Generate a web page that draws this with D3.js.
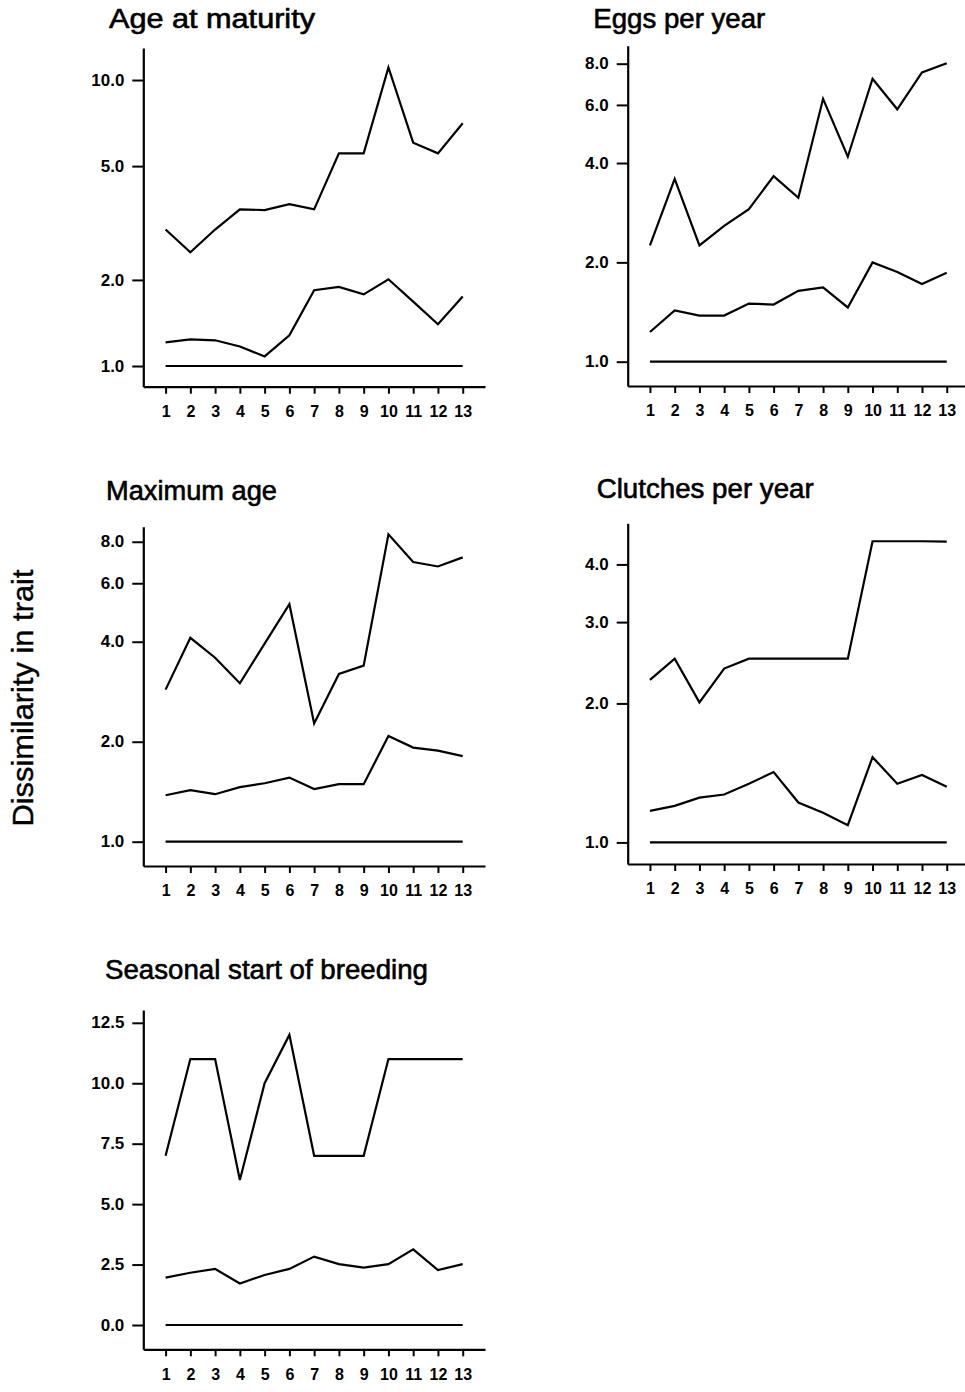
<!DOCTYPE html>
<html>
<head>
<meta charset="utf-8">
<script src="https://cdn.jsdelivr.net/npm/d3@7"></script>
<style>
  html, body { margin: 0; padding: 0; background: #fff; }
  svg { display: block; }
  text { font-family: "Liberation Sans", Arial, Helvetica, sans-serif; fill: #000; }
</style>
</head>
<body>
<svg id="chart" width="965" height="1392"></svg>
<script>
// ---------------- data ----------------
const steps = [1, 2, 3, 4, 5, 6, 7, 8, 9, 10, 11, 12, 13];
const xTickLabels = ["1", "2", "3", "4", "5", "6", "7", "8", "9", "10", "11", "12", "13"];

const titles = ["Age at maturity", "Eggs per year", "Maximum age", "Clutches per year", "Seasonal start of breeding"];
const yAxisLabel = "Dissimilarity in trait";

const ageMatHigh = [3.00, 2.50, 3.00, 3.53, 3.51, 3.68, 3.53, 5.54, 5.54, 11.07, 6.04, 5.54, 7.06];
const ageMatLow  = [1.21, 1.24, 1.23, 1.17, 1.08, 1.28, 1.84, 1.89, 1.78, 2.01, 1.68, 1.40, 1.75];
const ageMatBase = [1, 1, 1, 1, 1, 1, 1, 1, 1, 1, 1, 1, 1];
const ageMatTicks = [1, 2, 5, 10];

const eggsHigh = [2.25, 3.58, 2.25, 2.58, 2.90, 3.65, 3.14, 6.26, 4.18, 7.20, 5.82, 7.53, 8.02];
const eggsLow  = [1.23, 1.43, 1.38, 1.38, 1.50, 1.49, 1.64, 1.68, 1.46, 2.00, 1.87, 1.72, 1.86];
const eggsBase = [1, 1, 1, 1, 1, 1, 1, 1, 1, 1, 1, 1, 1];
const eggsTicks = [1, 2, 4, 6, 8];

const maxAgeHigh = [2.87, 4.11, 3.58, 3.00, 3.95, 5.19, 2.27, 3.20, 3.39, 8.42, 6.95, 6.74, 7.18];
const maxAgeLow  = [1.38, 1.43, 1.39, 1.46, 1.50, 1.56, 1.44, 1.49, 1.49, 2.08, 1.92, 1.88, 1.81];
const maxAgeBase = [1, 1, 1, 1, 1, 1, 1, 1, 1, 1, 1, 1, 1];
const maxAgeTicks = [1, 2, 4, 6, 8];

const clutchHigh = [2.25, 2.50, 2.01, 2.38, 2.50, 2.50, 2.50, 2.50, 2.50, 4.49, 4.49, 4.49, 4.48];
const clutchLow  = [1.17, 1.20, 1.25, 1.27, 1.34, 1.42, 1.22, 1.16, 1.09, 1.53, 1.34, 1.40, 1.32];
const clutchBase = [1, 1, 1, 1, 1, 1, 1, 1, 1, 1, 1, 1, 1];
const clutchTicks = [1, 2, 3, 4];

const seasonHigh = [7, 11, 11, 6, 10, 12, 7, 7, 7, 11, 11, 11, 11];
const seasonLow  = [1.96, 2.16, 2.32, 1.72, 2.07, 2.32, 2.83, 2.52, 2.37, 2.52, 3.13, 2.27, 2.52];
const seasonBase = [0, 0, 0, 0, 0, 0, 0, 0, 0, 0, 0, 0, 0];
const seasonTicks = [0, 2.5, 5, 7.5, 10, 12.5];

// ---------------- layout ----------------
const panels = [
  { title: titles[0], series: [ageMatHigh, ageMatLow, ageMatBase], ticks: ageMatTicks, log: true,
    left: 143.3, right: 485, top: 48, bottom: 386.7, yDom: [0.8466, 12.94],
    tx: 109, ty: 28, tw: 206 },
  { title: titles[1], series: [eggsHigh, eggsLow, eggsBase], ticks: eggsTicks, log: true,
    left: 627.7, right: 969, top: 45.7, bottom: 386, yDom: [0.844, 9.07],
    tx: 593.3, ty: 27.5, tw: 172 },
  { title: titles[2], series: [maxAgeHigh, maxAgeLow, maxAgeBase], ticks: maxAgeTicks, log: true,
    left: 143.3, right: 485, top: 526.7, bottom: 866, yDom: [0.845, 8.88],
    tx: 106, ty: 500, tw: 171 },
  { title: titles[3], series: [clutchHigh, clutchLow, clutchBase], ticks: clutchTicks, log: true,
    left: 627.7, right: 969, top: 523.3, bottom: 864, yDom: [0.898, 4.91],
    tx: 596.7, ty: 498, tw: 217 },
  { title: titles[4], series: [seasonHigh, seasonLow, seasonBase], ticks: seasonTicks, log: false,
    left: 143.3, right: 485, top: 1010, bottom: 1349.3, yDom: [-1.005, 13.03],
    tx: 105, ty: 979, tw: 323 }
];

const svg = d3.select("#chart");

function stretch(sel, k) {
  sel.each(function () {
    const n = this.getComputedTextLength();
    d3.select(this).attr("textLength", n * k).attr("lengthAdjust", "spacingAndGlyphs");
  });
}

panels.forEach(p => {
  const g = svg.append("g");
  const x = d3.scaleLinear().domain([0.1, 13.9]).range([p.left, p.right]);
  const y = (p.log ? d3.scaleLog() : d3.scaleLinear()).domain(p.yDom).range([p.bottom, p.top]);

  // y axis
  const yAx = g.append("g")
    .attr("transform", `translate(${p.left},0)`)
    .call(d3.axisLeft(y).tickValues(p.ticks).tickFormat(d3.format(".1f"))
      .tickSize(11).tickPadding(8).tickSizeOuter(0));
  yAx.select(".domain").attr("stroke", "#000").attr("stroke-width", 2.2);
  yAx.selectAll(".tick line").attr("stroke", "#000").attr("stroke-width", 2);
  yAx.selectAll(".tick text")
    .attr("font-size", 16).attr("font-weight", "bold")
    .attr("font-family", "Liberation Sans, Arial, sans-serif")
    .call(stretch, 1.06);

  // x axis
  const xAx = g.append("g")
    .attr("transform", `translate(0,${p.bottom})`)
    .call(d3.axisBottom(x).tickValues(steps).tickFormat((d, i) => xTickLabels[i])
      .tickSize(7).tickPadding(12).tickSizeOuter(0));
  xAx.select(".domain").attr("stroke", "#000").attr("stroke-width", 2.2);
  xAx.selectAll(".tick line").attr("stroke", "#000").attr("stroke-width", 2);
  xAx.selectAll(".tick text")
    .attr("font-size", 16).attr("font-weight", "bold")
    .attr("font-family", "Liberation Sans, Arial, sans-serif");

  // lines
  const line = d3.line().x((d, i) => x(steps[i])).y(d => y(d));
  p.series.forEach(s => {
    g.append("path").datum(s)
      .attr("d", line)
      .attr("fill", "none")
      .attr("stroke", "#000")
      .attr("stroke-width", 2.2)
      .attr("stroke-linejoin", "miter");
  });

  // title
  g.append("text")
    .attr("x", p.tx).attr("y", p.ty)
    .attr("font-size", 27)
    .attr("stroke", "#000").attr("stroke-width", 0.6)
    .text(p.title)
    .attr("textLength", p.tw).attr("lengthAdjust", "spacingAndGlyphs");
});

// shared y label
svg.append("text")
  .attr("transform", "translate(33,698) rotate(-90)")
  .attr("text-anchor", "middle")
  .attr("font-size", 30)
  .attr("stroke", "#000").attr("stroke-width", 0.4)
  .attr("textLength", 257).attr("lengthAdjust", "spacingAndGlyphs")
  .text(yAxisLabel);
</script>
</body>
</html>
